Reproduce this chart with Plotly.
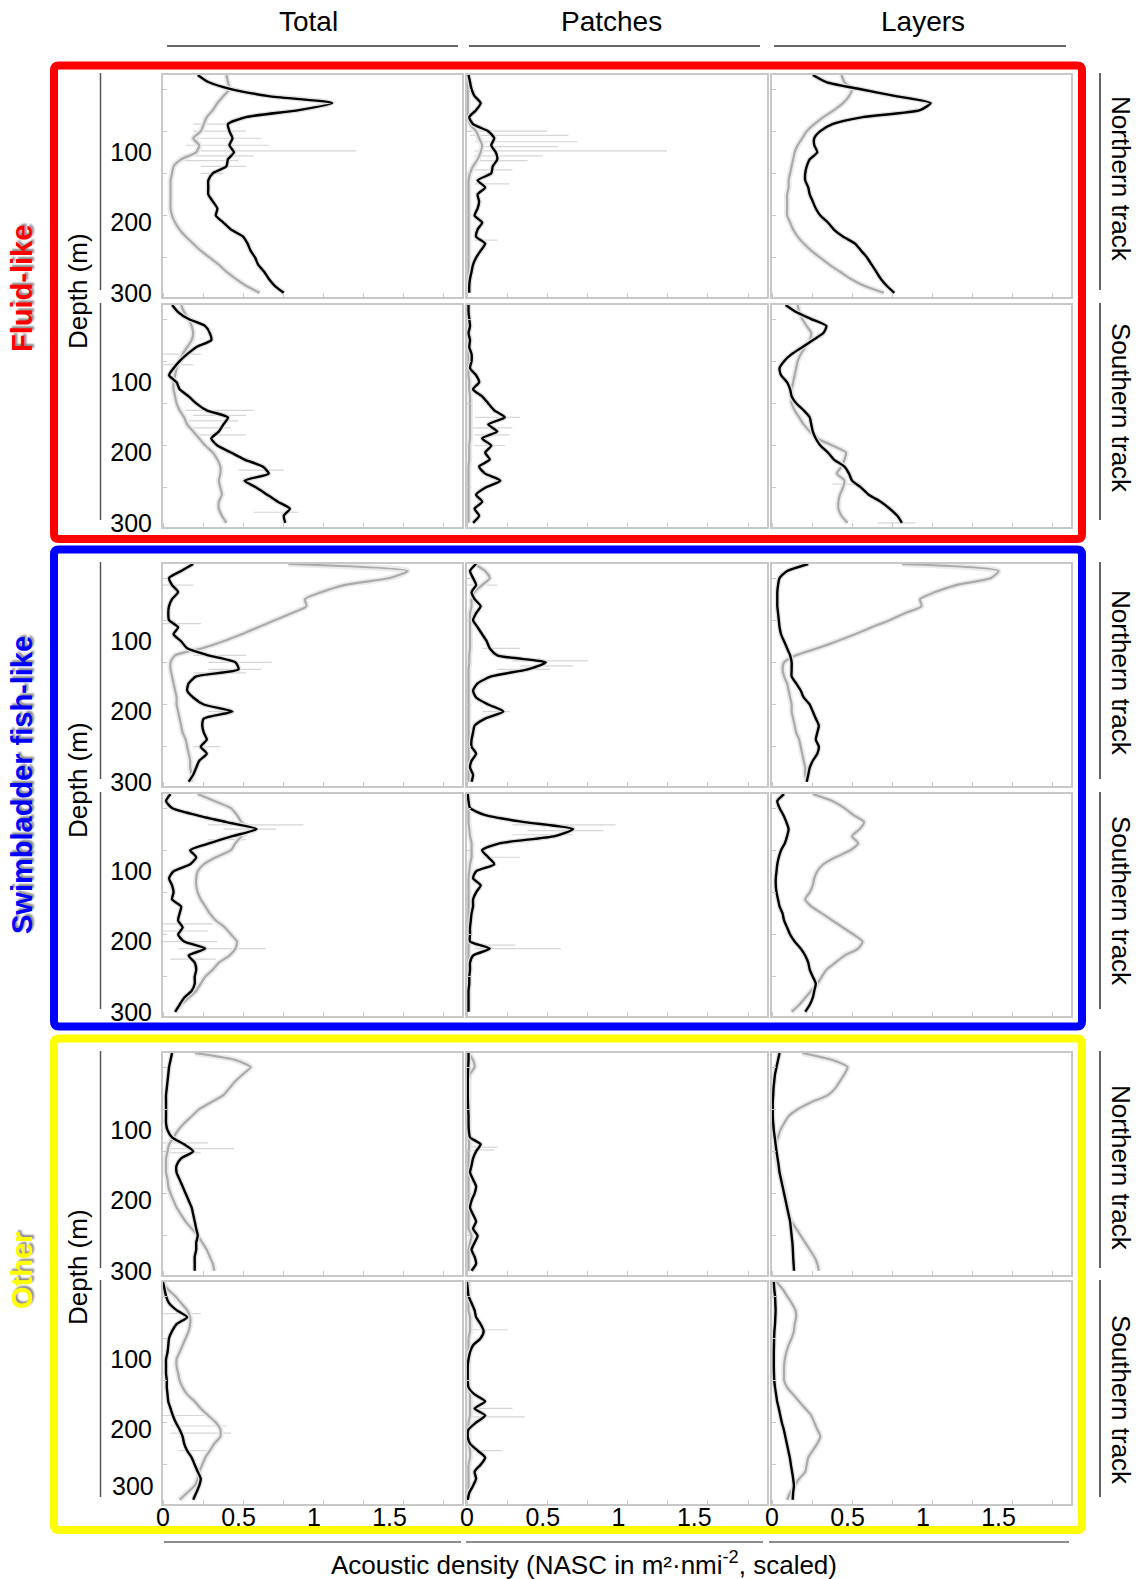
import plotly.graph_objects as go

W, H = 1141, 1579

# ---------------- data ----------------
depth = [-10, 0, 10, 20, 30, 40, 50, 60, 70, 80, 90, 100, 110, 120, 130, 140, 150,
         160, 170, 180, 190, 200, 210, 220, 230, 240, 250, 260, 270, 280, 290, 300]

columns = ["Total", "Patches", "Layers"]
tracks = ["Northern track", "Southern track"]
groups = ["Fluid-like", "Swimbladder fish-like", "Other"]
group_colors = ["#ff0000", "#0000ff", "#ffff00"]
x_ticks = [0, 0.5, 1, 1.5]
x_ticktext = ["0", "0.5", "1", "1.5"]
y_ticks = [100, 200, 300]

# Fluid-like, northern track
fl_n_total_black = [0.23, 0.30, 0.45, 0.70, 1.12, 0.90, 0.55, 0.43, 0.44, 0.46, 0.44, 0.47, 0.43, 0.42, 0.33, 0.30,
                    0.30, 0.30, 0.33, 0.36, 0.35, 0.40, 0.45, 0.53, 0.56, 0.58, 0.61, 0.63, 0.67, 0.70, 0.74, 0.80]
fl_n_total_grey = [0.42, 0.43, 0.44, 0.40, 0.36, 0.33, 0.29, 0.27, 0.25, 0.20, 0.24, 0.22, 0.12, 0.07, 0.06, 0.05,
                   0.05, 0.05, 0.05, 0.05, 0.06, 0.08, 0.11, 0.15, 0.20, 0.25, 0.31, 0.37, 0.42, 0.48, 0.55, 0.64]
fl_n_patch_black = [0.01, 0.02, 0.03, 0.05, 0.09, 0.06, 0.015, 0.04, 0.14, 0.18, 0.16, 0.19, 0.20, 0.17, 0.16, 0.07,
                    0.12, 0.07, 0.08, 0.07, 0.05, 0.10, 0.07, 0.06, 0.12, 0.09, 0.06, 0.04, 0.03, 0.02, 0.015, 0.015]
fl_n_patch_grey = [0.005, 0.005, 0.005, 0.005, 0.005, 0.005, 0.005, 0.02, 0.06, 0.08, 0.10, 0.09, 0.07, 0.04, 0.02, 0.01,
                   0.01, 0.01, 0.01, 0.01, 0.01, 0.01, 0.01, 0.01, 0.01, 0.01, 0.01, 0.01, 0.01, 0.01, 0.01, 0.01]
fl_n_layer_black = [0.27, 0.36, 0.58, 0.82, 1.05, 0.98, 0.60, 0.40, 0.32, 0.28, 0.28, 0.30, 0.25, 0.23, 0.22, 0.22,
                    0.24, 0.25, 0.27, 0.29, 0.32, 0.37, 0.41, 0.47, 0.55, 0.59, 0.63, 0.66, 0.69, 0.72, 0.76, 0.81]
fl_n_layer_grey = [0.46, 0.48, 0.53, 0.51, 0.47, 0.41, 0.34, 0.28, 0.23, 0.20, 0.17, 0.15, 0.14, 0.13, 0.12, 0.11,
                   0.11, 0.10, 0.10, 0.10, 0.10, 0.12, 0.14, 0.17, 0.21, 0.26, 0.32, 0.38, 0.45, 0.52, 0.61, 0.74]

# Fluid-like, southern track
fl_s_total_black = [0.06, 0.10, 0.17, 0.28, 0.31, 0.32, 0.22, 0.16, 0.11, 0.07, 0.04, 0.09, 0.11, 0.17, 0.22, 0.29,
                    0.43, 0.40, 0.37, 0.32, 0.36, 0.45, 0.54, 0.66, 0.70, 0.54, 0.62, 0.69, 0.76, 0.84, 0.80, 0.81]
fl_s_total_grey = [0.12, 0.14, 0.17, 0.19, 0.20, 0.19, 0.16, 0.13, 0.11, 0.09, 0.08, 0.07, 0.07, 0.08, 0.09, 0.11,
                   0.14, 0.16, 0.20, 0.24, 0.28, 0.33, 0.36, 0.38, 0.38, 0.37, 0.38, 0.39, 0.37, 0.37, 0.39, 0.42]
fl_s_patch_black = [0.01, 0.01, 0.015, 0.02, 0.01, 0.02, 0.015, 0.03, 0.03, 0.02, 0.06, 0.08, 0.04, 0.10, 0.14, 0.18,
                    0.25, 0.14, 0.20, 0.10, 0.16, 0.12, 0.15, 0.08, 0.12, 0.22, 0.12, 0.06, 0.10, 0.05, 0.08, 0.04]
fl_s_patch_grey = [0.01, 0.01, 0.01, 0.01, 0.01, 0.01, 0.01, 0.01, 0.01, 0.01, 0.01, 0.015, 0.015, 0.02, 0.02, 0.02,
                   0.02, 0.02, 0.02, 0.02, 0.015, 0.015, 0.015, 0.01, 0.01, 0.01, 0.01, 0.01, 0.01, 0.01, 0.01, 0.01]
fl_s_layer_black = [0.09, 0.16, 0.26, 0.36, 0.34, 0.27, 0.20, 0.13, 0.08, 0.05, 0.06, 0.10, 0.12, 0.13, 0.16, 0.21,
                    0.25, 0.26, 0.27, 0.29, 0.32, 0.37, 0.41, 0.48, 0.51, 0.53, 0.59, 0.64, 0.72, 0.78, 0.83, 0.86]
fl_s_layer_grey = [0.17, 0.18, 0.20, 0.23, 0.26, 0.25, 0.22, 0.19, 0.17, 0.16, 0.15, 0.14, 0.13, 0.13, 0.13, 0.15,
                   0.18, 0.21, 0.25, 0.30, 0.40, 0.49, 0.48, 0.46, 0.43, 0.48, 0.47, 0.45, 0.44, 0.44, 0.46, 0.50]

# Swimbladder fish-like, northern track
sb_n_total_black = [0.20, 0.12, 0.04, 0.06, 0.10, 0.06, 0.04, 0.035, 0.04, 0.10, 0.07, 0.12, 0.16, 0.30, 0.48, 0.50,
                    0.22, 0.17, 0.16, 0.20, 0.27, 0.46, 0.27, 0.26, 0.27, 0.29, 0.25, 0.29, 0.24, 0.22, 0.20, 0.17]
sb_n_total_grey = [0.83, 1.62, 1.50, 1.20, 1.05, 0.94, 0.95, 0.85, 0.74, 0.63, 0.52, 0.40, 0.26, 0.08, 0.05, 0.05,
                   0.06, 0.07, 0.08, 0.09, 0.09, 0.10, 0.11, 0.12, 0.13, 0.15, 0.16, 0.17, 0.18, 0.18, 0.19, 0.19]
sb_n_patch_black = [0.06, 0.02, 0.04, 0.06, 0.03, 0.05, 0.09, 0.06, 0.04, 0.07, 0.10, 0.13, 0.15, 0.20, 0.52, 0.40,
                    0.16, 0.07, 0.04, 0.06, 0.14, 0.24, 0.12, 0.05, 0.04, 0.03, 0.03, 0.06, 0.03, 0.02, 0.04, 0.03]
sb_n_patch_grey = [0.05, 0.12, 0.15, 0.10, 0.05, 0.03, 0.03, 0.02, 0.02, 0.02, 0.02, 0.02, 0.02, 0.015, 0.015, 0.01,
                   0.01, 0.01, 0.01, 0.01, 0.01, 0.01, 0.01, 0.01, 0.01, 0.01, 0.01, 0.01, 0.01, 0.01, 0.01, 0.01]
sb_n_layer_black = [0.24, 0.10, 0.05, 0.04, 0.035, 0.035, 0.035, 0.04, 0.045, 0.05, 0.06, 0.08, 0.10, 0.12, 0.13, 0.13,
                    0.13, 0.16, 0.19, 0.21, 0.25, 0.27, 0.29, 0.31, 0.30, 0.29, 0.31, 0.30, 0.27, 0.25, 0.24, 0.23]
sb_n_layer_grey = [0.86, 1.50, 1.45, 1.22, 1.08, 0.98, 0.99, 0.88, 0.78, 0.66, 0.55, 0.43, 0.30, 0.16, 0.08, 0.07,
                   0.08, 0.10, 0.11, 0.12, 0.13, 0.13, 0.14, 0.15, 0.16, 0.18, 0.19, 0.20, 0.21, 0.22, 0.22, 0.23]

# Swimbladder fish-like, southern track
sb_s_total_black = [0.05, 0.02, 0.06, 0.22, 0.42, 0.62, 0.46, 0.31, 0.18, 0.22, 0.18, 0.07, 0.04, 0.06, 0.07, 0.06,
                    0.12, 0.11, 0.10, 0.13, 0.10, 0.14, 0.28, 0.17, 0.21, 0.22, 0.21, 0.21, 0.19, 0.14, 0.11, 0.08]
sb_s_total_grey = [0.23, 0.34, 0.45, 0.49, 0.52, 0.57, 0.52, 0.48, 0.45, 0.35, 0.27, 0.23, 0.22, 0.22, 0.23, 0.25,
                   0.28, 0.31, 0.35, 0.41, 0.45, 0.49, 0.48, 0.44, 0.37, 0.33, 0.28, 0.25, 0.22, 0.17, 0.12, 0.08]
sb_s_patch_black = [0.005, 0.01, 0.02, 0.12, 0.38, 0.70, 0.58, 0.22, 0.10, 0.14, 0.18, 0.06, 0.04, 0.09, 0.06, 0.04,
                    0.04, 0.03, 0.025, 0.02, 0.02, 0.02, 0.15, 0.04, 0.02, 0.02, 0.015, 0.015, 0.01, 0.01, 0.01, 0.01]
sb_s_patch_grey = [0.01, 0.01, 0.01, 0.01, 0.01, 0.015, 0.02, 0.03, 0.03, 0.03, 0.02, 0.015, 0.01, 0.01, 0.01, 0.01,
                   0.01, 0.01, 0.01, 0.01, 0.01, 0.01, 0.01, 0.01, 0.01, 0.01, 0.01, 0.01, 0.01, 0.01, 0.01, 0.01]
sb_s_layer_black = [0.08, 0.035, 0.05, 0.075, 0.095, 0.11, 0.10, 0.085, 0.06, 0.045, 0.035, 0.03, 0.025, 0.025, 0.03, 0.04,
                    0.05, 0.07, 0.08, 0.10, 0.12, 0.15, 0.19, 0.22, 0.24, 0.25, 0.27, 0.29, 0.28, 0.27, 0.25, 0.22]
sb_s_layer_grey = [0.27, 0.40, 0.48, 0.54, 0.61, 0.58, 0.53, 0.57, 0.52, 0.42, 0.34, 0.30, 0.28, 0.27, 0.25, 0.22,
                   0.26, 0.33, 0.40, 0.47, 0.54, 0.60, 0.57, 0.48, 0.42, 0.36, 0.33, 0.30, 0.26, 0.22, 0.18, 0.13]

# Other, northern track
ot_n_total_black = [0.06, 0.05, 0.04, 0.035, 0.03, 0.025, 0.02, 0.02, 0.02, 0.02, 0.02, 0.03, 0.06, 0.14, 0.20, 0.12,
                    0.09, 0.09, 0.11, 0.13, 0.15, 0.17, 0.19, 0.20, 0.21, 0.22, 0.23, 0.22, 0.22, 0.21, 0.21, 0.21]
ot_n_total_grey = [0.21, 0.48, 0.58, 0.53, 0.48, 0.44, 0.40, 0.32, 0.24, 0.19, 0.14, 0.10, 0.07, 0.04, 0.03, 0.02,
                   0.02, 0.02, 0.03, 0.035, 0.05, 0.07, 0.09, 0.12, 0.15, 0.19, 0.23, 0.26, 0.29, 0.31, 0.33, 0.34]
ot_n_patch_black = [0.01, 0.01, 0.008, 0.006, 0.005, 0.005, 0.005, 0.006, 0.008, 0.01, 0.01, 0.012, 0.02, 0.09, 0.06, 0.04,
                    0.03, 0.02, 0.04, 0.06, 0.05, 0.03, 0.02, 0.04, 0.06, 0.04, 0.07, 0.05, 0.03, 0.05, 0.06, 0.03]
ot_n_patch_grey = [0.01, 0.04, 0.05, 0.02, 0.01, 0.01, 0.01, 0.01, 0.01, 0.01, 0.01, 0.01, 0.01, 0.015, 0.01, 0.01,
                   0.01, 0.01, 0.01, 0.01, 0.01, 0.01, 0.01, 0.01, 0.01, 0.01, 0.03, 0.02, 0.01, 0.01, 0.01, 0.01]
ot_n_layer_black = [0.05, 0.04, 0.03, 0.02, 0.015, 0.01, 0.008, 0.005, 0.005, 0.005, 0.008, 0.012, 0.018, 0.024, 0.03, 0.037,
                    0.044, 0.05, 0.06, 0.07, 0.08, 0.09, 0.10, 0.11, 0.12, 0.125, 0.13, 0.135, 0.138, 0.14, 0.143, 0.146]
ot_n_layer_grey = [0.20, 0.40, 0.50, 0.48, 0.45, 0.42, 0.37, 0.26, 0.17, 0.11, 0.08, 0.055, 0.04, 0.025, 0.025, 0.03,
                   0.04, 0.05, 0.065, 0.075, 0.085, 0.095, 0.10, 0.11, 0.13, 0.16, 0.19, 0.22, 0.25, 0.28, 0.30, 0.31]

# Other, southern track
ot_s_total_black = [0.0, 0.01, 0.02, 0.04, 0.09, 0.16, 0.09, 0.06, 0.04, 0.035, 0.03, 0.02, 0.02, 0.02, 0.025, 0.025,
                    0.03, 0.035, 0.05, 0.065, 0.085, 0.11, 0.13, 0.14, 0.16, 0.19, 0.21, 0.23, 0.25, 0.24, 0.22, 0.20]
ot_s_total_grey = [0.0, 0.03, 0.08, 0.12, 0.16, 0.18, 0.18, 0.17, 0.15, 0.13, 0.11, 0.09, 0.09, 0.10, 0.11, 0.13,
                   0.16, 0.21, 0.25, 0.30, 0.35, 0.38, 0.38, 0.34, 0.31, 0.28, 0.26, 0.24, 0.23, 0.21, 0.16, 0.11]
ot_s_patch_black = [0.0, 0.005, 0.01, 0.03, 0.05, 0.06, 0.09, 0.11, 0.09, 0.04, 0.02, 0.01, 0.005, 0.005, 0.005, 0.01,
                    0.05, 0.12, 0.05, 0.12, 0.06, 0.01, 0.005, 0.02, 0.07, 0.12, 0.09, 0.05, 0.06, 0.04, 0.015, 0.005]
ot_s_patch_grey = [0.01, 0.01, 0.01, 0.01, 0.01, 0.02, 0.02, 0.02, 0.01, 0.01, 0.01, 0.01, 0.01, 0.01, 0.01, 0.01,
                   0.02, 0.02, 0.02, 0.02, 0.01, 0.01, 0.01, 0.01, 0.02, 0.02, 0.01, 0.01, 0.01, 0.01, 0.01, 0.01]
ot_s_layer_black = [0.012, 0.015, 0.02, 0.022, 0.024, 0.022, 0.02, 0.016, 0.014, 0.013, 0.012, 0.012, 0.012, 0.013, 0.015, 0.02,
                    0.027, 0.034, 0.045, 0.055, 0.065, 0.078, 0.088, 0.098, 0.108, 0.118, 0.125, 0.133, 0.14, 0.145, 0.14, 0.137]
ot_s_layer_grey = [0.03, 0.07, 0.10, 0.13, 0.155, 0.16, 0.15, 0.145, 0.13, 0.11, 0.095, 0.085, 0.08, 0.08, 0.08, 0.10,
                   0.14, 0.18, 0.22, 0.26, 0.28, 0.30, 0.32, 0.30, 0.27, 0.24, 0.23, 0.22, 0.18, 0.15, 0.12, 0.10]

# faint individual-profile excursions: (depth, from, to)
fl_n_total_spikes = [(60, 0.20, 0.45), (70, 0.20, 0.55), (80, 0.20, 0.65), (90, 0.15, 0.70), (98, 0.25, 1.28),
                     (105, 0.20, 0.60), (112, 0.10, 0.50), (120, 0.25, 0.55), (130, 0.25, 0.40)]
fl_n_patch_spikes = [(70, 0.02, 0.53), (76, 0.02, 0.67), (85, 0.05, 0.73), (92, 0.10, 0.60), (98, 0.05, 1.32),
                     (105, 0.05, 0.50), (112, 0.05, 0.40), (125, 0.05, 0.30), (145, 0.05, 0.28), (225, 0.05, 0.20)]
fl_s_total_spikes = [(60, 0.0, 0.25), (75, 0.0, 0.20), (140, 0.15, 0.60), (147, 0.20, 0.55), (155, 0.15, 0.50),
                     (165, 0.15, 0.45), (175, 0.20, 0.55), (225, 0.50, 0.80), (285, 0.60, 0.90)]
fl_s_patch_spikes = [(150, 0.05, 0.35), (165, 0.0, 0.30), (175, 0.05, 0.28), (190, 0.05, 0.25)]
fl_s_layer_spikes = [(245, 0.40, 0.60), (300, 0.70, 0.95)]
sb_n_total_spikes = [(20, 0.0, 0.20), (75, 0.0, 0.25), (120, 0.20, 0.55), (130, 0.30, 0.72), (140, 0.30, 0.65),
                     (145, 0.20, 0.55), (200, 0.30, 0.45), (250, 0.20, 0.38)]
sb_n_patch_spikes = [(20, 0.0, 0.20), (110, 0.10, 0.35), (128, 0.30, 0.80), (135, 0.35, 0.70), (140, 0.20, 0.55),
                     (200, 0.10, 0.28)]
sb_s_total_spikes = [(34, 0.30, 0.93), (40, 0.40, 0.75), (55, 0.30, 0.55), (175, 0.0, 0.33), (185, 0.0, 0.30),
                     (200, 0.0, 0.36), (210, 0.10, 0.68), (225, 0.05, 0.35)]
sb_s_patch_spikes = [(34, 0.30, 0.98), (42, 0.40, 0.90), (48, 0.30, 0.70), (80, 0.10, 0.35), (205, 0.05, 0.32),
                     (210, 0.05, 0.62)]
ot_n_total_spikes = [(118, 0.0, 0.30), (126, 0.05, 0.47), (132, 0.05, 0.25)]
ot_n_patch_spikes = [(124, 0.0, 0.20), (128, 0.0, 0.18)]
ot_s_total_spikes = [(35, 0.0, 0.25), (180, 0.0, 0.28), (195, 0.05, 0.42), (205, 0.05, 0.45), (230, 0.10, 0.30)]
ot_s_patch_spikes = [(58, 0.0, 0.27), (170, 0.0, 0.30), (182, 0.0, 0.38), (230, 0.0, 0.23)]

# panel table (row-major: group x track, columns Total / Patches / Layers)
panels = [
    [(fl_n_total_black, fl_n_total_grey, fl_n_total_spikes),
     (fl_n_patch_black, fl_n_patch_grey, fl_n_patch_spikes),
     (fl_n_layer_black, fl_n_layer_grey, [])],
    [(fl_s_total_black, fl_s_total_grey, fl_s_total_spikes),
     (fl_s_patch_black, fl_s_patch_grey, fl_s_patch_spikes),
     (fl_s_layer_black, fl_s_layer_grey, fl_s_layer_spikes)],
    [(sb_n_total_black, sb_n_total_grey, sb_n_total_spikes),
     (sb_n_patch_black, sb_n_patch_grey, sb_n_patch_spikes),
     (sb_n_layer_black, sb_n_layer_grey, [])],
    [(sb_s_total_black, sb_s_total_grey, sb_s_total_spikes),
     (sb_s_patch_black, sb_s_patch_grey, sb_s_patch_spikes),
     (sb_s_layer_black, sb_s_layer_grey, [])],
    [(ot_n_total_black, ot_n_total_grey, ot_n_total_spikes),
     (ot_n_patch_black, ot_n_patch_grey, ot_n_patch_spikes),
     (ot_n_layer_black, ot_n_layer_grey, [])],
    [(ot_s_total_black, ot_s_total_grey, ot_s_total_spikes),
     (ot_s_patch_black, ot_s_patch_grey, ot_s_patch_spikes),
     (ot_s_layer_black, ot_s_layer_grey, [])],
]

# ---------------- layout geometry (pixels) ----------------
col_px = [(163, 462), (467, 767), (772, 1071)]
row_px = [(75, 297), (305, 527), (564, 786), (794, 1016), (1053, 1275), (1282, 1504)]


def fx(x):
    return x / W


def fy(y):
    return 1 - y / H


FONT = "Liberation Sans, Arial, Helvetica, sans-serif"
fig = go.Figure()
layout = dict(width=W, height=H, margin=dict(l=0, r=0, t=0, b=0, autoexpand=False),
              paper_bgcolor="white", plot_bgcolor="white", showlegend=False,
              font=dict(family=FONT, size=25, color="black"))

for r in range(6):
    for c in range(3):
        idx = r * 3 + c + 1
        xa = "x" if idx == 1 else f"x{idx}"
        ya = "y" if idx == 1 else f"y{idx}"
        xkey = "xaxis" if idx == 1 else f"xaxis{idx}"
        ykey = "yaxis" if idx == 1 else f"yaxis{idx}"
        black, grey, spikes = panels[r][c]

        if spikes:
            sx, sy = [], []
            for d, a, b in spikes:
                sx += [a, b, None]
                sy += [d, d, None]
            fig.add_trace(go.Scatter(x=sx, y=sy, xaxis=xa, yaxis=ya, mode="lines",
                                     line=dict(color="#d6d6d6", width=1.2), hoverinfo="skip"))
        fig.add_trace(go.Scatter(x=grey, y=depth, xaxis=xa, yaxis=ya, mode="lines",
                                 line=dict(color="#ebebeb", width=6, shape="spline", smoothing=0.6),
                                 hoverinfo="skip"))
        fig.add_trace(go.Scatter(x=grey, y=depth, xaxis=xa, yaxis=ya, mode="lines",
                                 line=dict(color="#aaaaaa", width=2.2, shape="spline", smoothing=0.6),
                                 name="grey"))
        fig.add_trace(go.Scatter(x=black, y=depth, xaxis=xa, yaxis=ya, mode="lines",
                                 line=dict(color="#e0e0e0", width=5, shape="spline", smoothing=0.6),
                                 hoverinfo="skip"))
        fig.add_trace(go.Scatter(x=black, y=depth, xaxis=xa, yaxis=ya, mode="lines",
                                 line=dict(color="#000000", width=2.4, shape="spline", smoothing=0.6),
                                 name="black"))

        x0, x1 = col_px[c]
        y0, y1 = row_px[r]
        # bottom row: the 300 label is lifted clear of the x tick labels (see annotation below)
        yt = y_ticks if r < 5 else y_ticks[:2]
        layout[xkey] = dict(domain=[fx(x0), fx(x1)], anchor=ya, range=[0, 1.98],
                            showgrid=False, zeroline=False, showline=True, mirror=True,
                            linecolor="#c8c8c8", linewidth=2, automargin=False,
                            tickmode="array", tickvals=x_ticks, ticktext=x_ticktext,
                            ticks="", ticklen=0, showticklabels=(r == 5), ticklabelstandoff=-10,
                            tickfont=dict(size=25, family=FONT),
                            minor=dict(ticks="inside", ticklen=4, tickcolor="#c8c8c8",
                                       tick0=0, dtick=0.265, showgrid=False))
        layout[ykey] = dict(domain=[fy(y1), fy(y0)], anchor=xa, range=[306, -10],
                            showgrid=False, zeroline=False, showline=True, mirror=True,
                            linecolor="#c8c8c8", linewidth=2, automargin=False,
                            tickmode="array", tickvals=yt, ticks="", ticklen=0,
                            showticklabels=(c == 0), ticklabelstandoff=4,
                            tickfont=dict(size=25, family=FONT),
                            minor=dict(ticks="inside", ticklen=4, tickcolor="#c8c8c8",
                                       tick0=10, dtick=60, showgrid=False))

shapes = []
annotations = []


def hline(xa, xb, y, color="#333333", w=1.5):
    shapes.append(dict(type="line", xref="paper", yref="paper", x0=fx(xa), x1=fx(xb),
                       y0=fy(y), y1=fy(y), line=dict(color=color, width=w)))


def vline(x, ya, yb, color="#555555", w=1.5):
    shapes.append(dict(type="line", xref="paper", yref="paper", x0=fx(x), x1=fx(x),
                       y0=fy(ya), y1=fy(yb), line=dict(color=color, width=w)))


def rounded_rect(xa, ya, xb, yb, rad, color, w):
    p = (f"M {fx(xa + rad)},{fy(ya)} L {fx(xb - rad)},{fy(ya)} "
         f"Q {fx(xb)},{fy(ya)} {fx(xb)},{fy(ya + rad)} L {fx(xb)},{fy(yb - rad)} "
         f"Q {fx(xb)},{fy(yb)} {fx(xb - rad)},{fy(yb)} L {fx(xa + rad)},{fy(yb)} "
         f"Q {fx(xa)},{fy(yb)} {fx(xa)},{fy(yb - rad)} L {fx(xa)},{fy(ya + rad)} "
         f"Q {fx(xa)},{fy(ya)} {fx(xa + rad)},{fy(ya)} Z")
    shapes.append(dict(type="path", xref="paper", yref="paper", path=p, layer="below",
                       line=dict(color=color, width=w), fillcolor="rgba(0,0,0,0)"))


# column titles + underlines
title_x = [308, 611, 923]
top_lines = [(167, 458), (469, 760), (774, 1066)]
bottom_lines = [(164, 461), (466, 763), (769, 1069)]
for c in range(3):
    annotations.append(dict(text=columns[c], x=fx(title_x[c]), y=fy(21), xref="paper", yref="paper",
                            showarrow=False, xanchor="center", yanchor="middle",
                            font=dict(size=28, family=FONT, color="black")))
    hline(*top_lines[c], 46, "#333333", 1.5)
    hline(*bottom_lines[c], 1542, "#666666", 1.5)

# lifted "300" depth label of the bottom-left panel
annotations.append(dict(text=str(y_ticks[2]), x=fx(156), y=fy(1486), xref="paper", yref="paper",
                        showarrow=False, xanchor="right", yanchor="middle",
                        font=dict(size=25, family=FONT, color="black")))

# group frames
frames = [(65.5, 539), (549.5, 1026.5), (1038.5, 1530)]
for g in range(3):
    ya, yb = frames[g]
    rounded_rect(54, ya, 1082, yb, 5, group_colors[g], 8)

# side lines, track labels, depth labels
track_label_y = [179, 408, 673, 901, 1168, 1400]
for r in range(6):
    y0, y1 = row_px[r]
    vline(100.5, y0 - 2, y1 - 7, "#555555", 1.5)
    vline(1100, y0 - 2, y1 - 7, "#333333", 1.5)
    annotations.append(dict(text=tracks[r % 2], x=fx(1121), y=fy(track_label_y[r]),
                            xref="paper", yref="paper", showarrow=False, textangle=90,
                            xanchor="center", yanchor="middle",
                            font=dict(size=26, family=FONT, color="black")))

depth_label_y = [291, 780, 1267]
group_label_y = [289, 785, 1271]
for g in range(3):
    annotations.append(dict(text="Depth (m)", x=fx(78), y=fy(depth_label_y[g]),
                            xref="paper", yref="paper", showarrow=False, textangle=-90,
                            xanchor="center", yanchor="middle",
                            font=dict(size=26, family=FONT, color="black")))
    annotations.append(dict(text="<b>" + groups[g] + "</b>", x=fx(22), y=fy(group_label_y[g]),
                            xref="paper", yref="paper", showarrow=False, textangle=-90,
                            xanchor="center", yanchor="middle",
                            font=dict(size=29, family=FONT, color=group_colors[g],
                                      shadow="2px 2px 2px #8a8a8a")))

annotations.append(dict(text="Acoustic density (NASC in m²·nmi<sup>-2</sup>, scaled)",
                        x=fx(584), y=fy(1563), xref="paper", yref="paper", showarrow=False,
                        xanchor="center", yanchor="middle",
                        font=dict(size=26, family=FONT, color="black")))

layout["shapes"] = shapes
layout["annotations"] = annotations
fig.update_layout(**layout)
fig.write_html("out.html",
               config={"displayModeBar": False},
               post_script="document.body.style.margin='0';"
                           "document.body.style.overflow='hidden';"
                           "document.documentElement.style.overflow='hidden';")
